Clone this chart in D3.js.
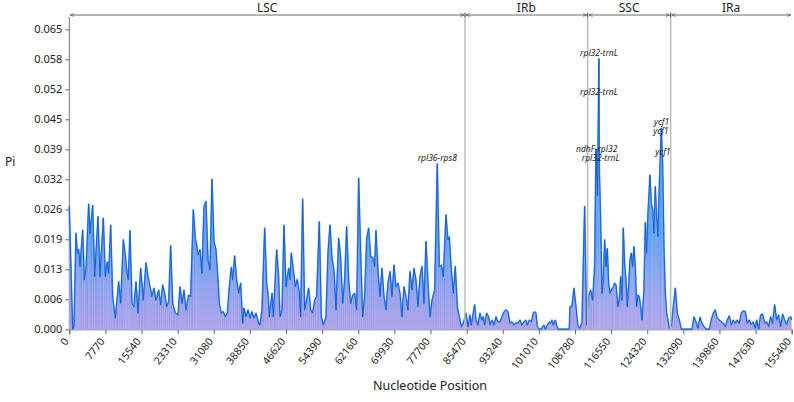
<!DOCTYPE html>
<meta charset="utf-8">
<style>
  body { margin: 0; background: #fff; }
  text { font-family: "Noto Sans", sans-serif; }
</style>
<body>
<script src="https://d3js.org/d3.v7.min.js"></script>
<script>
  // sliding-window nucleotide diversity (position bp, Pi)
  const lscPos = [0,724,1011,1441,1728,2015,2302,2876,3233,3592,4166,4453,5027,5457,6173,6604,7320,7750,8180,8469,8899,9329,9901,10620,11050,11622,12052,12340,12697,13057,13487,13917,14348,14778,15352,15924,16498,16928,17359,17789,18219,18649,19223,19653,20083,20514,20944,21374,21804,22235,22807,23381,23811,24242,24672,25102,25676,26107,26679,27109,27397,27684,28114,28544,28974,29404,29835,30265,30695,31125,31555,31985,32272,32702,33132,33562,33993,34423,34853,35141,35571,36001,36431,36862,37292,37579,38009,38439,38869,39299,39730,40160,40733,41020,41450,42024,42454,42741,43027,43601,43888,44605,45035,45322,45752,46182,46612,47186,47473,47759,48189,48620,49050,49480,49767,50197,50627,51057,51488,51918,52348,52778,53209,53782,54212,54643,55216,55647,56077,56507,56937,57368,57941,58372,58802,59232,59662,60092,60523,60953,61383,61813,62244,62674,63104,63534,63965,64395,64825,65255,65686,65972,66402,66833,67263,67693,68123,68554,68984,69414,69844,70275,70705,71135,71565,71996,72426,72856,73286,73717,74147,74577,75007,75438,75868,76298,76728,77159,77589,78019,78592,79157,79593,80024,80454,81027,81458,81745,82175,82605,83035,83466,83896,84326,84756];
  const lscPi = [.0266,0,.0006,.0208,.0165,.0173,.0136,.0215,.0107,.0129,.0271,.0208,.0268,.0114,.0244,.0114,.0241,.0114,.0146,.0121,.0226,.0071,.0024,.0103,.0056,.0194,.0161,.0129,.0107,.0214,.0056,.0049,.0103,.0035,.0132,.0063,.0144,.0114,.0092,.0071,.0089,.0063,.0085,.0053,.0096,.0078,.0049,.006,.0181,.0056,.0035,.0031,.0092,.0056,.0085,.0042,.0074,.0071,.0259,.0197,.0183,.0161,.0172,.0121,.0266,.0277,.015,.0129,.0325,.019,.0172,.0107,.0056,.0035,.0038,.0027,.0035,.0092,.0134,.0107,.0159,.0107,.0078,.01,.0013,.0046,.0027,.0042,.0024,.0038,.0024,.0035,.0013,.0009,.0042,.0219,.01,.0078,.0027,.0078,.0027,.0172,.0114,.0027,.0042,.0225,.0092,.0132,.0107,.0165,.0129,.0092,.0108,.0078,.0027,.0282,.0042,.0063,.0089,.0042,.0035,.0063,.0071,.0233,.0027,.0009,.0027,.0165,.0226,.0154,.0129,.0042,.0197,.0157,.0056,.0107,.0222,.0107,.0056,.0074,.0078,.0042,.0327,.0165,.0027,.0071,.0197,.0219,.0157,.0156,.0136,.0214,.0129,.0071,.0132,.0071,.0042,.01,.0125,.0071,.0139,.0092,.01,.0078,.0027,.0092,.0071,.0042,.0125,.0085,.0132,.0107,.0049,.0114,.0136,.0056,.019,.01,.0027,.0063,.0085,.0358,.0136,.0139,.0114,.0248,.0194,.02,.0129,.0078,.0136,.0049,.0027,.0006,.0013];

  const irbPos = [85330,85760,86190,86477,86764,87194,87480,87911,88341,88771,89058,89345,89775,90205,90492,90922,91353,91783,92213,92643,93074,93504,93934,94364,94795,95225,95655,96085,96516,96946,97376,97806,98237,98523,98954,99384,99814,100101,100388,100675,101105,101535,101822,102109,102396,102826,103256,103543,103830,104117,104547,104834,105121,107558,107701,108131,108562,108992,109422,109852,110283,110856,111287];
  const irbPi = [.0035,.0006,.0031,.0009,.0027,.0053,.002,.0009,.0035,.002,.0027,.0009,.0035,.0027,.0009,.002,.0009,.0027,.0016,.0016,.0027,.0038,.0042,.0038,.0013,.0016,.0009,.0014,.0013,.002,.0009,.0016,.002,.0009,.002,.0016,.0035,.0038,.0035,.0006,0,0,.0006,.0009,0,.0009,.0016,.0013,.002,.0009,.002,.0009,0,0,.0049,.0049,.0089,.0049,.0006,.0002,.0016,.0266,.0009];

  const sscPos = [111717,112147,112577,113007,113293,113616,113938,114010,114298,114585,114872,115158,115445,115732,116018,116305,116592,117022,117309,117596,118026,118313,118600,118887,119173,119460,119747,120034,120321,120607,120894,121181,121468,121755,122041,122328,122615,122902,123188,123619,123905,124192,124479,124909,125196,125483,125770,126057,126344,126630,126917,127347,127634,127921,128208,128495,128781,129068];
  const sscPi = [.0071,.0085,.0063,.0136,.039,.029,.0586,.0352,.0237,.0078,.0107,.0194,.0136,.0175,.01,.0078,.0085,.0092,.01,.0096,.0049,.0063,.0114,.0063,.0219,.0143,.0107,.0049,.0092,.015,.0165,.0136,.0179,.0136,.0049,.0074,.0071,.0049,.002,.0085,.0231,.0165,.0251,.0334,.0273,.0259,.0208,.0309,.0244,.0201,.0309,.0436,.036,.0179,.0078,.0035,.002,.0002];

  const iraPos = [129498,129928,130359,130789,131219,131649,133944,134374,134804,135235,135665,136095,136525,136956,137673,138103,138533,138963,139394,139824,140254,140684,141115,141545,141975,142405,142836,143266,143696,144126,144557,144987,145417,145847,146278,146708,147138,147568,147855,148285,148716,149146,149576,150006,150437,150867,151297,151727,152158,152588,153018,153448,153879,154309,154739,155169,155400];
  const iraPi = [.0006,.0049,.0089,.0035,.002,0,0,.0027,.0016,.0002,.0026,.0013,.0006,0,0,.002,.0035,.0042,.0024,.002,.0016,.0013,.0006,.002,.0029,.001,.002,.0013,.002,.0013,.0035,.004,.0038,.0013,.002,.001,.0016,.0002,.002,0,.0031,.0033,.0013,.0016,.0006,.0027,.0013,.0053,.002,.0031,.0006,.0033,.002,.001,.0024,.0027,.002];

  const regionNames = ["LSC", "IRb", "SSC", "IRa"];
  const regionBounds = [0, 85115, 111516, 129361, 155400];

  const xTicks = [0,7770,15540,23310,31080,38850,46620,54390,62160,69930,77700,85470,93240,101010,108780,116550,124320,132090,139860,147630,155400];
  const yTicks = [0,.0065,.013,.0195,.026,.0325,.039,.0455,.052,.0585,.065];
  const yTickLabels = ["0.000","0.006","0.013","0.019","0.026","0.032","0.039","0.045","0.052","0.058","0.065"];

  const annoLabels = ["rpl36-rps8","rpl32-trnL","rpl32-trnL","ndhF-rpl32","rpl32-trnL","ycf1","ycf1","ycf1"];
  const annoPos = [79157,113940,113940,113443,114307,127424,127274,127704];
  const annoPi = [.0358,.0586,.0501,.0378,.0359,.0436,.0417,.0371];

  const pos = lscPos.concat(irbPos, sscPos, iraPos);
  const pi = lscPi.concat(irbPi, sscPi, iraPi);
  const data = pos.map((p, i) => ({pos: p, pi: pi[i]}));

  const width = 794, height = 402;
  const x = d3.scaleLinear().domain([0, 155400]).range([69.3, 791.7]);
  const y = d3.scaleLinear().domain([0, 0.065]).range([329.3, 29.3]);
  const topY = 15;

  const svg = d3.select("body").append("svg")
    .attr("width", width).attr("height", height);

  const defs = svg.append("defs");
  const grad = defs.append("linearGradient")
    .attr("id", "fillGrad").attr("gradientUnits", "userSpaceOnUse")
    .attr("x1", 0).attr("x2", 0).attr("y1", y(0)).attr("y2", y(0.02));
  grad.append("stop").attr("offset", "0%").attr("stop-color", "#a99be8");
  grad.append("stop").attr("offset", "45%").attr("stop-color", "#8a9cee");
  grad.append("stop").attr("offset", "100%").attr("stop-color", "#549af0");

  defs.append("marker").attr("id", "arr")
    .attr("viewBox", "0 0 10 10").attr("refX", 10).attr("refY", 5)
    .attr("markerWidth", 5).attr("markerHeight", 5)
    .attr("orient", "auto-start-reverse")
    .append("path").attr("d", "M0,1L10,5L0,9").attr("fill", "none")
    .attr("stroke", "#444").attr("stroke-width", 1.5);

  // x axis
  const xAxis = svg.append("g")
    .attr("transform", `translate(0,${y(0)})`)
    .call(d3.axisBottom(x).tickValues(xTicks).tickFormat(d3.format("d")).tickSize(5));
  xAxis.select(".domain").attr("stroke", "#777");
  xAxis.selectAll(".tick line").attr("stroke", "#666");
  xAxis.selectAll(".tick text")
    .attr("font-size", 10.5).attr("fill", "#222")
    .attr("text-anchor", "end")
    .attr("x", 0).attr("y", 0).attr("dy", "0.35em")
    .attr("transform", "translate(-3.5,10) rotate(-52)");

  // y axis
  const yAxis = svg.append("g")
    .attr("transform", `translate(${x(0)},0)`)
    .call(d3.axisLeft(y).tickValues(yTicks).tickFormat((d, i) => yTickLabels[i]).tickSize(4));
  yAxis.select(".domain").remove();
  yAxis.append("line").attr("y1", y(0)).attr("y2", topY + 2).attr("stroke", "#777");
  yAxis.selectAll(".tick line").attr("stroke", "#666");
  yAxis.selectAll(".tick text").attr("font-size", 11).attr("fill", "#222").attr("x", -7);

  // area + line
  const area = d3.area().x(d => x(d.pos)).y0(y(0)).y1(d => y(d.pi));
  const line = d3.line().x(d => x(d.pos)).y(d => y(d.pi));

  svg.append("line").attr("x1", x(0)).attr("x2", x(155400))
    .attr("y1", y(0) - 0.5).attr("y2", y(0) - 0.5)
    .attr("stroke", "#86c0f2").attr("stroke-width", 1.5);

  svg.append("path").datum(data).attr("d", area).attr("fill", "url(#fillGrad)");

  svg.append("g").selectAll("line").data(data).join("line")
    .attr("x1", d => x(d.pos)).attr("x2", d => x(d.pos))
    .attr("y1", y(0)).attr("y2", d => y(d.pi))
    .attr("stroke", "#fff").attr("stroke-opacity", 0.3).attr("stroke-width", 0.6);

  svg.append("path").datum(data).attr("d", line)
    .attr("fill", "none").attr("stroke", "#5aa2f2").attr("stroke-width", 1.7)
    .attr("stroke-linejoin", "round");
  svg.append("path").datum(data).attr("d", line)
    .attr("fill", "none").attr("stroke", "#1657d4").attr("stroke-width", 0.9)
    .attr("stroke-linejoin", "round");

  // region boundaries
  svg.append("g").selectAll("line").data(regionBounds.slice(1, -1)).join("line")
    .attr("x1", d => x(d)).attr("x2", d => x(d))
    .attr("y1", topY - 2).attr("y2", y(0))
    .attr("stroke", "#bdbdbd").attr("stroke-width", 1.5);

  const regions = regionNames.map((n, i) => ({name: n, a: regionBounds[i], b: regionBounds[i + 1]}));
  const rg = svg.append("g");
  rg.selectAll("line.seg").data(regions).join("line").attr("class", "seg")
    .attr("x1", d => x(d.a) + 1).attr("x2", d => x(d.b) - 1)
    .attr("y1", topY).attr("y2", topY)
    .attr("stroke", "#444").attr("stroke-width", 0.8)
    .attr("marker-start", "url(#arr)").attr("marker-end", "url(#arr)");
  rg.selectAll("line.tk").data(regionBounds.slice(1, -1)).join("line").attr("class", "tk")
    .attr("x1", d => x(d)).attr("x2", d => x(d))
    .attr("y1", topY - 2.5).attr("y2", topY + 2.5)
    .attr("stroke", "#444").attr("stroke-width", 0.8);
  rg.selectAll("text").data(regions).join("text")
    .attr("x", d => (x(d.a) + x(d.b)) / 2).attr("y", 12)
    .attr("text-anchor", "middle").attr("font-size", 12).attr("fill", "#222")
    .text(d => d.name);

  // annotations
  svg.append("g").selectAll("text").data(annoLabels).join("text")
    .attr("x", (d, i) => x(annoPos[i])).attr("y", (d, i) => y(annoPi[i]) - 3)
    .attr("text-anchor", "middle").attr("font-size", 8.5).attr("font-style", "italic")
    .attr("fill", "#222").text(d => d);

  // axis titles
  svg.append("text").attr("x", 5).attr("y", 166).attr("font-size", 12).attr("fill", "#222").text("Pi");
  svg.append("text").attr("x", 430).attr("y", 390).attr("text-anchor", "middle")
    .attr("font-size", 12.5).attr("fill", "#222").text("Nucleotide Position");
</script>
</body>
